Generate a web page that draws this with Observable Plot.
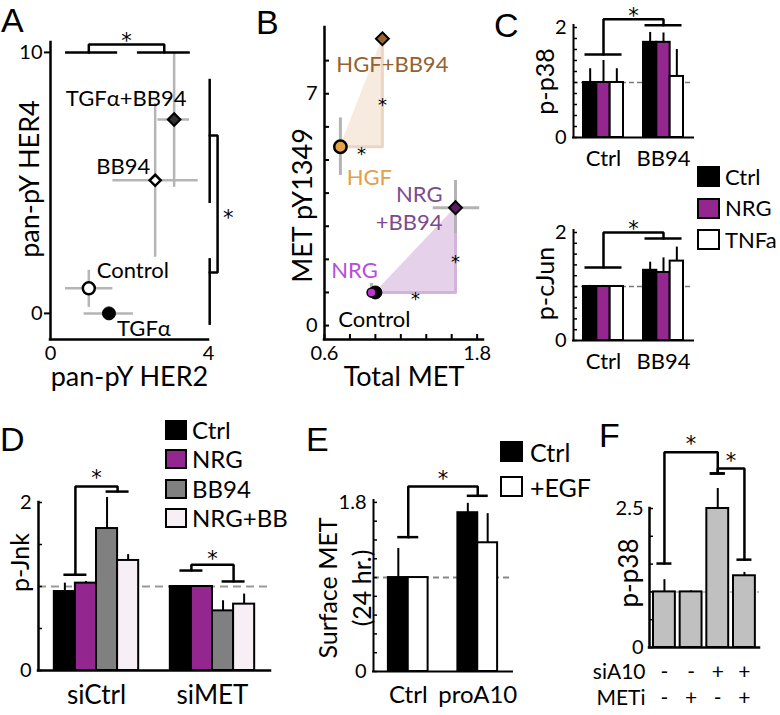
<!DOCTYPE html>
<html>
<head>
<meta charset="utf-8">
<script src="https://cdn.jsdelivr.net/npm/d3@7"></script>
<script src="https://cdn.jsdelivr.net/npm/@observablehq/plot@0.6"></script>
<style>
  html, body { margin: 0; padding: 0; background: #fff; }
  #fig { position: relative; width: 780px; height: 715px; overflow: hidden; font-family: Lato, "Open Sans", sans-serif; color: #000; }
  .letter { position: absolute; font-family: "Liberation Sans", Arial, sans-serif; font-size: 34px; line-height: 1; }
  .sw { position: absolute; box-sizing: border-box; border: 2px solid #000; }
  .leg { position: absolute; line-height: 1; white-space: nowrap; }
</style>
</head>
<body>
<div id="fig"></div>
<script>
// ===================== DATA =====================
// Panel A: pan-pY HER2 (x) vs pan-pY HER4 (y)
const aConditions = ["Control", "TGFα", "BB94", "TGFα+BB94"];
const aHER2   = [0.97, 1.48, 2.65, 3.13];
const aHER2Lo = [0.38, 0.85, 1.58, 2.72];
const aHER2Hi = [1.58, 2.10, 3.74, 3.52];
const aHER4   = [0.96, 0.00, 5.10, 7.43];
const aHER4Lo = [0.23, 0.00, 2.15, 4.83];
const aHER4Hi = [1.65, 0.00, 8.05, 10.0];
const aXTickLabels = [0, 4];
const aYTickLabels = [0, 10];

// Panel B: Total MET (x) vs MET pY1349 (y)
const bConditions = ["Control", "NRG", "NRG+BB94", "HGF", "HGF+BB94"];
const bTotalMET = [1.00, 0.97, 1.63, 0.725, 1.055];
const bTotalLo  = [1.00, 0.97, 1.455, 0.725, 1.055];
const bTotalHi  = [1.00, 0.97, 1.82, 0.725, 1.055];
const bPY1349   = [1.00, 1.00, 3.56, 5.40, 8.66];
const bPYLo     = [1.00, 0.82, 2.78, 4.53, 8.66];
const bPYHi     = [1.00, 1.27, 4.38, 6.27, 8.66];
const bXTickLabels = [0.6, 1.8];
const bYTickLabels = [0, 7];
const bComparisons = [["HGF", "HGF+BB94"], ["Control", "NRG+BB94"]];

// Panel C
const cGroups = ["Ctrl", "BB94"];
const cSeries = ["Ctrl", "NRG", "TNFa"];
const cP38     = [[1.00, 1.00, 1.00], [1.73, 1.73, 1.11]];
const cP38Err  = [[1.25, 1.40, 1.25], [1.91, 1.90, 1.60]];
const cCJun    = [[1.00, 1.00, 1.00], [1.30, 1.26, 1.47]];
const cCJunErr = [[1.02, 1.02, 1.00], [1.45, 1.53, 1.73]];
const cTickLabels = [0, 2];

// Panel D
const dGroups = ["siCtrl", "siMET"];
const dSeries = ["Ctrl", "NRG", "BB94", "NRG+BB"];
const dJnk    = [[0.94, 1.04, 1.69, 1.31], [1.00, 1.00, 0.71, 0.79]];
const dJnkErr = [[1.04, 1.06, 2.06, 1.38], [1.01, 1.01, 0.83, 0.91]];
const dTickLabels = [0, 2];

// Panel E
const eGroups = ["Ctrl", "proA10"];
const eSeries = ["Ctrl", "+EGF"];
const eMET    = [[1.00, 1.00], [1.69, 1.37]];
const eMETErr = [[1.31, 1.00], [1.79, 1.68]];
const eTickLabels = [0, 1.8];

// Panel F
const fRowLabels = ["siA10", "METi"];
const fSiA10  = ["-", "-", "+", "+"];
const fMETi   = ["-", "+", "-", "+"];
const fP38    = [1.00, 1.00, 2.50, 1.29];
const fP38Err = [1.22, 1.02, 2.86, 1.35];
const fTickLabels = [0, 2.5];

// Significance annotations (value units)
const aSigTop   = {a: {at: 0.97, lo: 0.38, hi: 1.70, level: 10}, b: {at: 2.88, lo: 2.20, hi: 3.54, level: 10}, top: 10.3, star: 10.65};
const aSigRight = {a: {at: 6.82, lo: 4.21, hi: 8.97, level: 4.03}, b: {at: 1.57, lo: -0.46, hi: 2.10, level: 4.03}, top: 4.23, star: [4.5, 3.87]};
const cP38Sig  = [{a: {g: 0, s: [0, 2], level: 1.51}, b: {g: 1, s: [0, 2], level: 2.04}, top: 2.15, star: 2.31}];
const cCJunSig = [{a: {g: 0, s: [0, 2], level: 1.35}, b: {g: 1, s: [0, 2], level: 1.89}, top: 2.00, star: 2.17}];
const dJnkSig = [
  {a: {g: 0, s: [0, 1], level: 1.14}, b: {g: 0, s: [2, 3], level: 2.13}, top: 2.19, star: 2.36},
  {a: {g: 1, s: [0, 1], level: 1.19}, b: {g: 1, s: [2, 3], level: 1.06}, top: 1.26, star: 1.39}
];
const eMETSig = [{a: {g: 0, s: [0, 1], level: 1.43}, b: {g: 1, s: [0, 1], level: 1.87}, top: 1.97, star: 2.11}];
const fP38Sig = [
  {a: {i: 0, level: 1.51}, b: {i: 2, level: 3.13}, top: 3.51, star: 3.76},
  {a: {i: 2, level: 3.13}, b: {i: 3, level: 1.58}, top: 3.22, star: 3.45}
];

// ===================== RENDERING =====================
const W = 780, H = 715;
const fig = document.getElementById("fig");
const SVG_STYLE = "position:absolute;left:0;top:0;background:transparent;overflow:visible;font-family:Lato,'Open Sans',sans-serif;";
const STAR = {fontFamily: "DejaVu Sans", fontSize: 21, dy: 6, lineAnchor: "middle", textAnchor: "middle", fill: "#000"};
const TICK_FS = 20;

function panel(frame, x, y, marks, color) {
  const [l, t, r, b] = frame;
  const opts = {
    width: W, height: H,
    marginLeft: l, marginTop: t, marginRight: W - r, marginBottom: H - b,
    x: {type: "linear", ...x, axis: null},
    y: {type: "linear", ...y, axis: null},
    style: SVG_STYLE,
    marks
  };
  if (color) opts.color = color;
  fig.appendChild(Plot.plot(opts));
}

// rotated (vertical) axis title, centred on the given offset from the frame's left-middle
const yTitle = (text, dx, dy, fontSize, lineHeight = 1) =>
  Plot.text([text], {frameAnchor: "left", textAnchor: "middle", lineAnchor: "middle", rotate: -90, dx, dy, fontSize, lineHeight});
// text below the frame
const below = (data, opts) => Plot.text(data, {frameAnchor: "bottom", lineAnchor: "middle", textAnchor: "middle", ...opts});
// y tick labels left of the frame
const yLabels = (data, dx = -7) => Plot.text(data, {y: d => d, frameAnchor: "left", textAnchor: "end", lineAnchor: "middle", dx, fontSize: TICK_FS});

function bracketV(a, b, top, starY, w = 2.5) {
  return [
    Plot.ruleY([a, b], {y: "level", x1: "lo", x2: "hi", strokeWidth: w}),
    Plot.line([[a.at, a.level], [a.at, top], [b.at, top], [b.at, b.level]],
      {x: d => d[0], y: d => d[1], strokeWidth: w, strokeLinejoin: "miter"}),
    Plot.text(["*"], {x: (a.at + b.at) / 2, y: starY, ...STAR})
  ];
}
function bracketH(a, b, top, star, w = 2.5) {
  return [
    Plot.ruleX([a, b], {x: "level", y1: "lo", y2: "hi", strokeWidth: w}),
    Plot.line([[a.level, a.at], [top, a.at], [top, b.at], [b.level, b.at]],
      {x: d => d[0], y: d => d[1], strokeWidth: w, strokeLinejoin: "miter"}),
    Plot.text(["*"], {x: star[0], y: star[1], ...STAR})
  ];
}

function barPanel(o) {
  const n = o.series.length, pad = 0.75, gap = 1.5;
  const xmax = 2 * pad + o.groups.length * n + (o.groups.length - 1) * gap;
  const [l, t, r, b] = o.frame;
  const fw = r - l, unit = fw / xmax, hw = o.capPx / unit;
  const rows = [];
  o.groups.forEach((g, gi) => o.series.forEach((s, si) => {
    const x1 = pad + gi * (n + gap) + si;
    rows.push({g, s, x1, x2: x1 + 1, xc: x1 + 0.5, v: o.values[gi][si], e: o.errs[gi][si]});
  }));
  const gCenter = (d, gi) => pad + gi * (n + gap) + n / 2;
  const resolve = e => {
    const c = pad + e.g * (n + gap) + (e.s[0] + e.s[1] + 1) / 2;
    return {at: c, lo: c - hw, hi: c + hw, level: e.level};
  };
  const marks = [
    Plot.ruleY([1], {stroke: o.dashColor, strokeWidth: o.dashWidth, strokeDasharray: o.dash}),
    Plot.rect(rows, {x1: "x1", x2: "x2", y1: 0, y2: "v", fill: "s", stroke: "#000", strokeWidth: 2}),
    Plot.ruleX(rows.filter(d => d.e > d.v), {x: "xc", y1: "v", y2: "e", strokeWidth: 2}),
    Plot.tickY(o.ticks, {y: d => d, insetRight: fw - 4, strokeWidth: 1.5}),
    Plot.ruleX([0], {strokeWidth: o.axisWidth, strokeLinecap: "square"}),
    Plot.ruleY([0], {strokeWidth: o.axisWidth, strokeLinecap: "square"}),
    yLabels(o.tickLabels),
    below(o.groups, {x: gCenter, dy: o.groupDy, fontSize: o.groupSize}),
    yTitle(o.title, o.titleDx, o.titleDy, o.titleSize, o.titleLineHeight || 1),
    ...o.sig.flatMap(s => bracketV(resolve(s.a), resolve(s.b), s.top, s.star))
  ];
  panel(o.frame, {domain: [0, xmax]}, {domain: o.ydomain}, marks, {domain: o.series, range: o.colors});
}

function legend(items, colors, o) {
  items.forEach((t, i) => {
    const sq = document.createElement("div");
    sq.className = "sw";
    Object.assign(sq.style, {left: o.left + "px", top: (o.top + i * o.step) + "px", width: o.w + "px", height: o.h + "px", background: colors[i]});
    fig.appendChild(sq);
    const tx = document.createElement("div");
    tx.className = "leg";
    tx.textContent = t;
    Object.assign(tx.style, {left: o.textLeft + "px", top: (o.top + i * o.step + o.h / 2) + "px", transform: "translateY(-50%)", fontSize: o.size + "px"});
    fig.appendChild(tx);
  });
}

// ---------- Panel A ----------
{
  const frame = [50, 42, 208, 339];
  const fw = frame[2] - frame[0];
  const pts = aConditions.map((c, i) => ({c, x: aHER2[i], y: aHER4[i], xlo: aHER2Lo[i], xhi: aHER2Hi[i], ylo: aHER4Lo[i], yhi: aHER4Hi[i]}));
  const sty = {
    "Control":   {symbol: "circle",   fill: "#fff", r: 6,   sw: 2.5, dx: 44,  dy: -17},
    "TGFα":      {symbol: "circle",   fill: "#000", r: 6.5, sw: 1,   dx: 35,  dy: 16},
    "BB94":      {symbol: "diamond2", fill: "#fff", r: 5,   sw: 2.5, dx: -32, dy: -13},
    "TGFα+BB94": {symbol: "diamond2", fill: "#333", r: 5.6, sw: 2.2, dx: -48, dy: -21}
  };
  const marks = [
    Plot.ruleY(pts.filter(d => d.xhi > d.xlo), {y: "y", x1: "xlo", x2: "xhi", stroke: "#b5b5b5", strokeWidth: 2.5}),
    Plot.ruleX(pts.filter(d => d.yhi > d.ylo), {x: "x", y1: "ylo", y2: "yhi", stroke: "#b5b5b5", strokeWidth: 2.5}),
    ...pts.map(p => Plot.dot([p], {x: "x", y: "y", symbol: sty[p.c].symbol, fill: sty[p.c].fill, stroke: "#000", strokeWidth: sty[p.c].sw, r: sty[p.c].r})),
    ...pts.map(p => Plot.text([p], {x: "x", y: "y", text: "c", dx: sty[p.c].dx, dy: sty[p.c].dy, fontSize: 22})),
    Plot.ruleX([0], {strokeWidth: 2.5, strokeLinecap: "square"}),
    Plot.ruleY([-1], {strokeWidth: 2.5, strokeLinecap: "square"}),
    Plot.tickY(aYTickLabels, {y: d => d, insetLeft: -6, insetRight: fw, strokeWidth: 2}),
    yLabels(aYTickLabels, -8),
    below(aXTickLabels, {x: d => d, dy: 14, fontSize: TICK_FS}),
    below(["pan-pY HER2"], {dy: 38, fontSize: 27}),
    yTitle("pan-pY HER4", -20, -12, 27),
    ...bracketV(aSigTop.a, aSigTop.b, aSigTop.top, aSigTop.star),
    ...bracketH(aSigRight.a, aSigRight.b, aSigRight.top, aSigRight.star)
  ];
  panel(frame, {domain: [0, 4]}, {domain: [-1, 10.38]}, marks);
}

// ---------- Panel B ----------
{
  const frame = [324, 27, 483, 339];
  const fw = frame[2] - frame[0], fh = frame[3] - frame[1];
  const pts = bConditions.map((c, i) => ({c, x: bTotalMET[i], y: bPY1349[i], xlo: bTotalLo[i], xhi: bTotalHi[i], ylo: bPYLo[i], yhi: bPYHi[i]}));
  const byName = Object.fromEntries(pts.map(p => [p.c, p]));
  const triStyle = [{fill: "#f7eadf", edge: "#ebd5c4"}, {fill: "#e6d1ea", edge: "#d3b3da"}];
  const sty = {
    "Control":  {symbol: "circle",   fill: "#000",    r: 6.5, sw: 1,   dx: -1,  dy: 25, color: "#000"},
    "NRG":      {symbol: "circle",   fill: "#c42fd0", r: 4.5, sw: 1.5, dx: -17, dy: -24, color: "#b64fd6"},
    "NRG+BB94": {symbol: "diamond2", fill: "#5e1a63", r: 5.8, sw: 2,   dx: -13, dy: -1, color: "#7e4a8e", anchor: "end"},
    "HGF":      {symbol: "circle",   fill: "#e3a24c", r: 6.2, sw: 2.5, dx: 29,  dy: 29, color: "#e0a04c"},
    "HGF+BB94": {symbol: "diamond2", fill: "#9a6630", r: 5.8, sw: 2,   dx: 10,  dy: 24, color: "#94622e"}
  };
  const BSTAR = {...STAR, fontSize: 18};
  const triMarks = bComparisons.flatMap(([from, to], k) => {
    const p = byName[from], q = byName[to];
    return [
      Plot.areaY([{x: p.x, y1: p.y, y2: p.y}, {x: q.x, y1: p.y, y2: q.y}], {x: "x", y1: "y1", y2: "y2", fill: triStyle[k].fill}),
      Plot.line([[p.x, p.y], [q.x, p.y], [q.x, q.y]], {x: d => d[0], y: d => d[1], stroke: triStyle[k].edge, strokeWidth: 3}),
      Plot.text(["*"], {x: (p.x + q.x) / 2, y: p.y, ...BSTAR, dy: 7}),
      Plot.text(["*"], {x: q.x, y: (p.y + q.y) / 2, ...BSTAR, dy: 12})
    ];
  });
  const marks = [
    ...triMarks,
    Plot.ruleY(pts.filter(d => d.xhi > d.xlo), {y: "y", x1: "xlo", x2: "xhi", stroke: "#b3b3b3", strokeWidth: 3}),
    Plot.ruleX(pts.filter(d => d.yhi > d.ylo), {x: "x", y1: "ylo", y2: "yhi", stroke: "#b3b3b3", strokeWidth: 3}),
    ...pts.map(p => Plot.dot([p], {x: "x", y: "y", symbol: sty[p.c].symbol, fill: sty[p.c].fill, stroke: "#000", strokeWidth: sty[p.c].sw, r: sty[p.c].r})),
    ...pts.map(p => Plot.text([p], {x: "x", y: "y", text: d => d.c.includes("NRG+") ? d.c.replace("+", "\n+") : d.c,
      textAnchor: sty[p.c].anchor || "middle", lineHeight: 1.3, dx: sty[p.c].dx, dy: sty[p.c].dy, fill: sty[p.c].color, fontSize: 22})),
    Plot.ruleX([0.6], {strokeWidth: 2.5, strokeLinecap: "square"}),
    Plot.ruleY([-0.42], {strokeWidth: 2.5, strokeLinecap: "square"}),
    Plot.tickY(d3.range(0, 9), {y: d => d, insetRight: fw - 5, strokeWidth: 2}),
    Plot.tickX(d3.range(0.6, 1.81, 0.2), {x: d => d, insetTop: fh - 5, strokeWidth: 2}),
    yLabels(bYTickLabels),
    below(bXTickLabels, {x: d => d, dy: 14, fontSize: TICK_FS}),
    below(["Total MET"], {dy: 38, fontSize: 27}),
    yTitle("MET pY1349", -21, 22, 27)
  ];
  panel(frame, {domain: [0.6, 1.85]}, {domain: [-0.42, 9.0]}, marks);
}

// ---------- Panel C ----------
const cColors = ["#000000", "#93278f", "#ffffff"];
const cCommon = {groups: cGroups, series: cSeries, colors: cColors, ticks: d3.range(0, 2.01, 0.2), tickLabels: cTickLabels,
  dashColor: "#7a7a7a", dashWidth: 1.5, dash: "5,3", axisWidth: 2, groupDy: 21, groupSize: 22, titleDx: -28, titleSize: 25, capPx: 18.5};
barPanel({...cCommon, frame: [573, 25, 693, 137], values: cP38, errs: cP38Err, ydomain: [0, 2.036], title: "p-p38", titleDy: 0, sig: cP38Sig});
barPanel({...cCommon, frame: [573, 230, 693, 340], values: cCJun, errs: cCJunErr, ydomain: [0, 2.037], title: "p-cJun", titleDy: -2, sig: cCJunSig});
legend(cSeries, cColors, {left: 697, top: 166, step: 31.5, w: 23, h: 21, textLeft: 725, size: 22});

// ---------- Panel D ----------
const dColors = ["#000000", "#93278f", "#808080", "#f7eef6"];
barPanel({frame: [38, 502, 270, 670], groups: dGroups, series: dSeries, colors: dColors, values: dJnk, errs: dJnkErr,
  ydomain: [0, 2], ticks: [0, 0.5, 1, 1.5, 2], tickLabels: dTickLabels, dashColor: "#999", dashWidth: 2, dash: "8,5",
  axisWidth: 2.5, groupDy: 25, groupSize: 26, title: "p-Jnk", titleDx: -18, titleDy: -24, titleSize: 25, capPx: 11.5, sig: dJnkSig});
legend(dSeries, dColors, {left: 165, top: 420, step: 29.3, w: 22, h: 20, textLeft: 192, size: 24});

// ---------- Panel E ----------
const eColors = ["#000000", "#ffffff"];
barPanel({frame: [373, 500, 512, 671], groups: eGroups, series: eSeries, colors: eColors, values: eMET, errs: eMETErr,
  ydomain: [0, 1.82], ticks: d3.range(0, 1.81, 0.2), tickLabels: eTickLabels, dashColor: "#888", dashWidth: 2, dash: "6,4",
  axisWidth: 2, groupDy: 24, groupSize: 24, title: "Surface MET\n(24 hr.)", titleDx: -30, titleDy: 2, titleSize: 25, titleLineHeight: 1.35,
  capPx: 10.5, sig: eMETSig});
legend(eSeries, eColors, {left: 500, top: 441, step: 35, w: 23, h: 21, textLeft: 530, size: 25});

// ---------- Panel F ----------
{
  const frame = [649, 508, 759, 647];
  const xmax = 4.125, fw = frame[2] - frame[0], unit = fw / xmax, hw = 7.5 / unit;
  const rows = fP38.map((v, i) => ({i, x1: i + 0.15, x2: i + 0.97, xc: i + 0.56, v, e: fP38Err[i], si: fSiA10[i], me: fMETi[i]}));
  const resolve = e => ({at: rows[e.i].xc, lo: rows[e.i].xc - hw, hi: rows[e.i].xc + hw, level: e.level});
  const marks = [
    Plot.ruleY([1], {stroke: "#b0b0b0", strokeWidth: 1.5, strokeDasharray: "5,4"}),
    Plot.rect(rows, {x1: "x1", x2: "x2", y1: 0, y2: "v", fill: "#c0c0c0", stroke: "#000", strokeWidth: 2}),
    Plot.ruleX(rows.filter(d => d.e > d.v), {x: "xc", y1: "v", y2: "e", strokeWidth: 2}),
    Plot.tickY([0, 0.5, 1, 1.5, 2, 2.5], {y: d => d, insetRight: fw - 4, strokeWidth: 1.5}),
    Plot.ruleX([0], {strokeWidth: 2.5, strokeLinecap: "square"}),
    Plot.ruleY([0], {strokeWidth: 2.5, strokeLinecap: "square"}),
    yLabels(fTickLabels, -6),
    Plot.text([fRowLabels[0]], {frameAnchor: "bottom-left", textAnchor: "end", lineAnchor: "middle", dx: -4, dy: 25, fontSize: 21}),
    Plot.text([fRowLabels[1]], {frameAnchor: "bottom-left", textAnchor: "end", lineAnchor: "middle", dx: -4, dy: 51, fontSize: 21}),
    below(rows, {x: "xc", text: "si", dy: 25, fontSize: 21}),
    below(rows, {x: "xc", text: "me", dy: 51, fontSize: 21}),
    yTitle("p-p38", -20, -5, 26),
    ...fP38Sig.flatMap(s => bracketV(resolve(s.a), resolve(s.b), s.top, s.star))
  ];
  panel(frame, {domain: [0, xmax]}, {domain: [0, 2.5]}, marks);
}

// ---------- Panel letters ----------
[["A", 1, 3], ["B", 256, 5], ["C", 494, 8], ["D", 0, 422], ["E", 306, 422], ["F", 599, 418]].forEach(([t, x, y]) => {
  const d = document.createElement("div");
  d.className = "letter";
  d.textContent = t;
  d.style.left = x + "px";
  d.style.top = y + "px";
  fig.appendChild(d);
});
</script>
</body>
</html>
